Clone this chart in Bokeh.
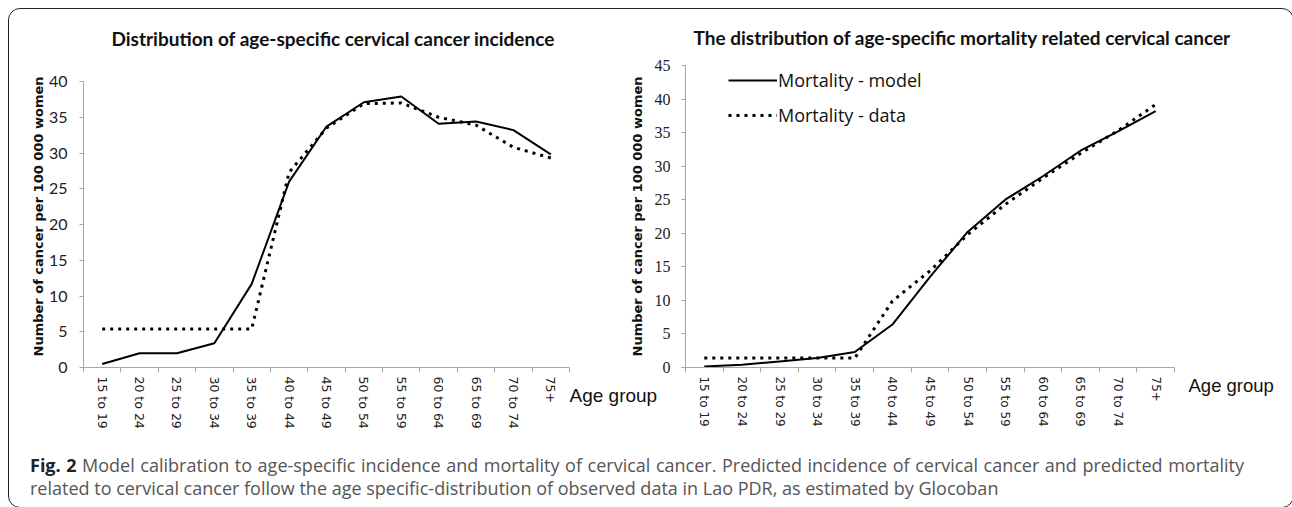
from bokeh.plotting import figure
from bokeh.models import Range1d, LinearAxis, FixedTicker, Legend, LegendItem, Div
from bokeh.layouts import row, column
from bokeh.embed import file_html
from bokeh.resources import INLINE

# ---------------- data ----------------
age_groups = ["15 to 19", "20 to 24", "25 to 29", "30 to 34", "35 to 39", "40 to 44",
              "45 to 49", "50 to 54", "55 to 59", "60 to 64", "65 to 69", "70 to 74", "75+"]

incidence_model = [0.5, 2.0, 2.0, 3.4, 11.7, 26.0, 33.7, 37.1, 37.9, 34.1, 34.4, 33.2, 29.8]
incidence_data = [5.4, 5.4, 5.4, 5.4, 5.4, 27.3, 33.5, 36.9, 37.0, 35.0, 33.9, 30.8, 29.3]

mortality_model = [0.15, 0.4, 0.9, 1.4, 2.3, 6.4, 13.5, 20.2, 25.0, 28.5, 32.3, 35.2, 38.2]
mortality_data = [1.4, 1.4, 1.4, 1.4, 1.4, 9.9, 14.4, 19.8, 24.3, 28.2, 31.9, 35.3, 39.2]

left_yticks = [0, 5, 10, 15, 20, 25, 30, 35, 40]
right_yticks = [0, 5, 10, 15, 20, 25, 30, 35, 40, 45]

left_title = "Distribution of age-specific cervical cancer incidence"
right_title = "The distribution of age-specific mortality related cervical cancer"
y_label = "Number of cancer per 100 000 women"
x_label = "Age group"

# category centres and boundaries on a numeric axis
xs = [i + 0.5 for i in range(len(age_groups))]
bounds = list(range(len(age_groups) + 1))

GRAY = "#a6a6a6"


def make_chart(width, height, yrange_top, yticks, title, mb, tick_font, tick_size, xlab_size,
               title_offset, title_standoff, y_label_standoff, y_tick_standoff,
               xlabel_lines, xlabel_size, xlabel_standoff, xlabel_lh, margin=None):
    kw = dict(width=width, height=height,
              x_range=Range1d(0, len(age_groups)), y_range=Range1d(0, yrange_top),
              x_axis_type=None, y_axis_type=None,
              output_backend="svg", toolbar_location=None,
              min_border_left=mb[0], min_border_right=mb[1],
              min_border_top=mb[2], min_border_bottom=mb[3],
              background_fill_alpha=0, border_fill_alpha=0,
              outline_line_color=None, title=title)
    if margin is not None:
        kw["margin"] = margin
    p = figure(**kw)
    p.title.text_font = "Lato"
    p.title.text_font_style = "bold"
    p.title.text_font_size = "19px"
    p.title.text_color = "#111111"
    p.title.align = "left"
    p.title.vertical_align = "top"
    p.title.offset = title_offset
    p.title.standoff = title_standoff

    xaxis = LinearAxis(
        ticker=FixedTicker(ticks=xs, minor_ticks=bounds),
        major_label_overrides={x: g for x, g in zip(xs, age_groups)},
        major_label_orientation="vertical",
        major_tick_out=0, major_tick_in=0,
        minor_tick_out=5, minor_tick_in=0,
        axis_line_color=GRAY, minor_tick_line_color=GRAY,
        major_label_standoff=4,
        major_label_text_font="DejaVu Sans",
        major_label_text_font_size=xlab_size,
        major_label_text_color="#222222",
    )
    p.add_layout(xaxis, "below")

    yaxis = LinearAxis(
        ticker=FixedTicker(ticks=yticks),
        bounds=(yticks[0], yticks[-1]),
        axis_label=y_label,
        axis_label_text_font="DejaVu Sans",
        axis_label_text_font_style="bold",
        axis_label_text_font_size="13px",
        axis_label_text_color="#111111",
        axis_label_standoff=y_label_standoff,
        major_tick_out=4, major_tick_in=0,
        minor_tick_out=0, minor_tick_in=0,
        axis_line_color=GRAY, major_tick_line_color=GRAY,
        major_label_standoff=y_tick_standoff,
        major_label_text_font=tick_font,
        major_label_text_font_size=tick_size,
        major_label_text_color="#222222",
    )
    p.add_layout(yaxis, "left")

    # "Age group" written next to the end of the category axis
    age_axis = LinearAxis(
        ticker=FixedTicker(ticks=[yticks[0]]),
        major_label_overrides={yticks[0]: " \n" * xlabel_lines + x_label},
        major_label_orientation="horizontal",
        major_tick_out=0, major_tick_in=0, minor_tick_out=0, minor_tick_in=0,
        axis_line_color=None,
        major_label_standoff=xlabel_standoff,
        major_label_text_font="Liberation Sans",
        major_label_text_font_size=xlabel_size,
        major_label_text_line_height=xlabel_lh,
        major_label_text_color="#111111",
    )
    p.add_layout(age_axis, "right")
    return p


# ---------------- left chart ----------------
p1 = make_chart(651, 440, 42.24, left_yticks, left_title, (74, 90, 56, 82),
                "Lato", "16px", "12.5px", 28, 27, 0, 12, 2, "19px", 0, 1.35)
p1.line(xs, incidence_model, line_color="black", line_width=2)
p1.line(xs, incidence_data, line_color="black", line_width=3, line_dash="3 5")

# ---------------- right chart ----------------
p2 = make_chart(663, 440, 45, right_yticks, right_title, (65, 109, 56, 82),
                "Liberation Serif", "16px", "12px", 8, 29, 7, 11, 2, "18.5px", 14, 0.88,
                margin=(0, 0, 0, -40))
r_model = p2.line(xs, mortality_model, line_color="black", line_width=2)
r_data = p2.line(xs, mortality_data, line_color="black", line_width=3, line_dash="3 5")

legend = Legend(
    items=[LegendItem(label="Mortality - model", renderers=[r_model]),
           LegendItem(label="Mortality - data", renderers=[r_data])],
    location=(43, 240), glyph_width=49, glyph_height=24, label_height=24,
    label_standoff=1, spacing=11, padding=0, margin=0,
    border_line_color=None, background_fill_alpha=0,
    label_text_font="Open Sans", label_text_font_size="18px", label_text_color="#111111",
)
p2.add_layout(legend)

# ---------------- caption ----------------
caption_html = (
    '<div style="font-family:\'Open Sans\';font-size:18px;color:#555555;line-height:23px;'
    'padding:0 14px 0 16px;width:1244px;">'
    '<div style="text-align:justify;text-align-last:justify;">'
    '<b style="color:#222222;">Fig. 2</b> Model calibration to age-specific incidence and mortality '
    'of cervical cancer. Predicted incidence of cervical cancer and predicted mortality</div>'
    '<div>related to cervical cancer follow the age specific-distribution of observed data in '
    'Lao PDR, as estimated by Glocoban</div></div>'
)
cap = Div(text=caption_html, width=1274, height=48)

layout = column(row(p1, p2), cap, margin=(8, 0, 0, 8),
                styles={"border": "1px solid #222222", "border-radius": "12px"})

open("out.html", "w").write(file_html(layout, INLINE))
